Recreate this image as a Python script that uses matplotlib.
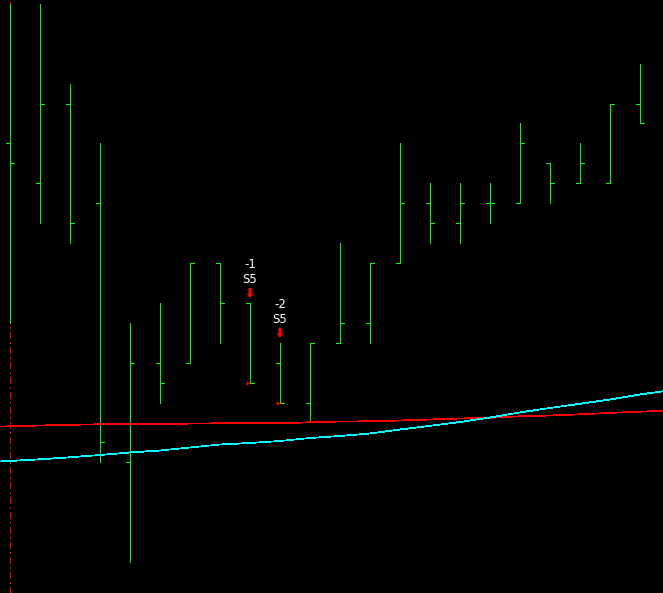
import numpy as np
import matplotlib.pyplot as plt

# price levels in ticks, one bar per entry
opens  = [16, 14, 18, 13,  0, 5,  5, 10, 8, 5, 3,  6,  7, 10, 13, 12, 13, 13, 15, 14, 14, 18]
highs  = [23, 23, 19, 16,  7, 8, 10, 10, 8, 6, 6, 11, 10, 16, 14, 14, 14, 17, 15, 16, 18, 20]
lows   = [ 7, 12, 11,  0, -5, 3,  5,  6, 4, 3, 2,  6,  6, 10, 11, 11, 12, 13, 13, 14, 14, 17]
closes = [15, 18, 12,  1,  5, 4, 10,  8, 4, 3, 6,  7, 10, 13, 12, 13, 13, 16, 14, 15, 18, 17]

# indicator lines, one value per bar plus one bar either side (off screen)
line_idx = list(range(-1, 23))
red_ma = [1.77, 1.806, 1.846, 1.882, 1.907, 1.907, 1.922, 1.942, 1.957, 1.957, 1.957, 2.007,
          2.047, 2.057, 2.097, 2.148, 2.198, 2.233, 2.308, 2.348, 2.408, 2.479, 2.539, 2.60]
cyan_ma = [0.0, 0.065, 0.151, 0.251, 0.366, 0.492, 0.592, 0.743, 0.893, 0.968, 1.069, 1.219,
           1.320, 1.445, 1.646, 1.831, 2.022, 2.248, 2.504, 2.725, 2.935, 3.151, 3.402, 3.613]

# signals
sig_bars = [8, 9]
sig_counts = ['-1', '-2']
sig_names = ['S5', 'S5']
session_bar = 0

W, H = 663, 593
px = 0.72  # points per pixel at dpi 100
fig = plt.figure(figsize=(W / 100, H / 100), dpi=100, facecolor='black')
ax = fig.add_axes([0, 0, 1, 1])
ax.set_facecolor('black')
ax.set_axis_off()

x_px, y_px = 30.0, 19.93  # pixels per bar / per tick
ax.set_xlim(-10 / x_px, (W - 10) / x_px)
y_top = 462.3 / y_px
y_bot = (462.3 - H) / y_px
ax.set_ylim(y_bot, y_top)
dy = (y_top - y_bot) / H
dx = 1 / x_px

green = '#00ff00'
# session separator
ax.axvline(session_bar, color='red', lw=px, dashes=(6, 3, 2, 3), zorder=1, antialiased=False)

x = np.arange(len(opens))
ax.vlines(x, lows, highs, color=green, lw=px, zorder=2, antialiased=False)
ax.hlines(opens, x - 4 * dx, x, color=green, lw=px, zorder=2, antialiased=False)
ax.hlines(closes, x, x + 4 * dx, color=green, lw=px, zorder=2, antialiased=False)

ax.plot(line_idx, red_ma, color='red', lw=0.55, zorder=3, antialiased=False)
ax.plot(line_idx, cyan_ma, color='#00ffff', lw=0.55, zorder=3, antialiased=False)

# little red dot at top of first bar
ax.plot(session_bar, highs[session_bar] + 1.5 * dy, 's', color='red', ms=1.5 * px, mew=0, zorder=4)

for b, cnt, name in zip(sig_bars, sig_counts, sig_names):
    h = highs[b]
    ax.annotate(cnt, (b, h), xytext=(0, 38 * px), textcoords='offset points',
                ha='center', va='center', color='white', fontsize=8.5)
    ax.annotate(name, (b, h), xytext=(0, 23.5 * px), textcoords='offset points',
                ha='center', va='center', color='white', fontsize=8.5)
    ax.annotate('', xy=(b, h + 5 * dy), xytext=(b, h + 15 * dy),
                arrowprops=dict(arrowstyle='simple,head_length=0.3,head_width=0.5,tail_width=0.22',
                                color='red', mutation_scale=10, shrinkA=0, shrinkB=0, lw=0))
    ax.plot(b - 2 * dx, closes[b], '>', color='red', ms=4 * px, mew=0, zorder=4)

fig.savefig('out.png', dpi=100, facecolor='black')
